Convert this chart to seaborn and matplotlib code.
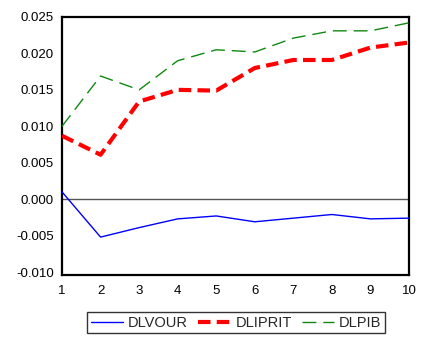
import matplotlib
matplotlib.use("Agg")
import matplotlib.pyplot as plt
import seaborn as sns
import pandas as pd

periods = [1, 2, 3, 4, 5, 6, 7, 8, 9, 10]
dlvour = [0.0010, -0.0052, -0.0039, -0.0027, -0.0023, -0.0031, -0.0026, -0.0021, -0.0027, -0.0026]
dliprit = [0.0087, 0.0061, 0.0134, 0.0150, 0.0149, 0.0180, 0.0191, 0.0191, 0.0208, 0.0215]
dlpib = [0.0100, 0.0169, 0.0150, 0.0190, 0.0205, 0.0202, 0.0221, 0.0231, 0.0231, 0.0242]
y_ticks = [-0.010, -0.005, 0.000, 0.005, 0.010, 0.015, 0.020, 0.025]

sns.set_style("white")
plt.rcParams["font.family"] = ["Liberation Sans", "DejaVu Sans"]

fig = plt.figure(figsize=(4.34, 3.37), dpi=100)
ax = fig.add_axes([0.1429, 0.184, 0.7995, 0.7656])

ax.axhline(0, color="#555555", lw=1.0, zorder=1)

series = [
    ("DLVOUR", dlvour, dict(color="#0000ff", lw=1.0, linestyle="-")),
    ("DLIPRIT", dliprit, dict(color="#ff0000", lw=3.0, linestyle=(0, (3, 1.5)))),
    ("DLPIB", dlpib, dict(color="#118811", lw=1.0, linestyle=(0, (10, 5)))),
]
for name, vals, style in series:
    df = pd.DataFrame({"period": periods, "value": vals})
    sns.lineplot(data=df, x="period", y="value", ax=ax, label=name, zorder=3, **style)

ax.set_xlim(1, 10)
ax.set_ylim(-0.0104, 0.025)
ax.set_xticks(periods)
ax.set_yticks(y_ticks)
ax.set_yticklabels([f"{v:.3f}" for v in y_ticks])
ax.set_xlabel("")
ax.set_ylabel("")
ax.tick_params(axis="both", direction="out", length=4, width=1, color="black",
               labelsize=9.5, labelcolor="black", pad=2)
ax.tick_params(axis="x", pad=3)
for s in ax.spines.values():
    s.set_visible(True)
    s.set_color("black")
    s.set_linewidth(1.6)

ax.legend_.remove()
handles, labels = ax.get_legend_handles_labels()
leg = fig.legend(handles, labels, loc="center", ncol=3, bbox_to_anchor=(0.544, 0.042),
                 frameon=True, fancybox=False, fontsize=10.5, handlelength=2.2,
                 handletextpad=0.35, columnspacing=0.7, borderpad=0.25)
leg.get_frame().set_edgecolor("black")
leg.get_frame().set_linewidth(1.0)

fig.savefig("out.png", dpi=100)
